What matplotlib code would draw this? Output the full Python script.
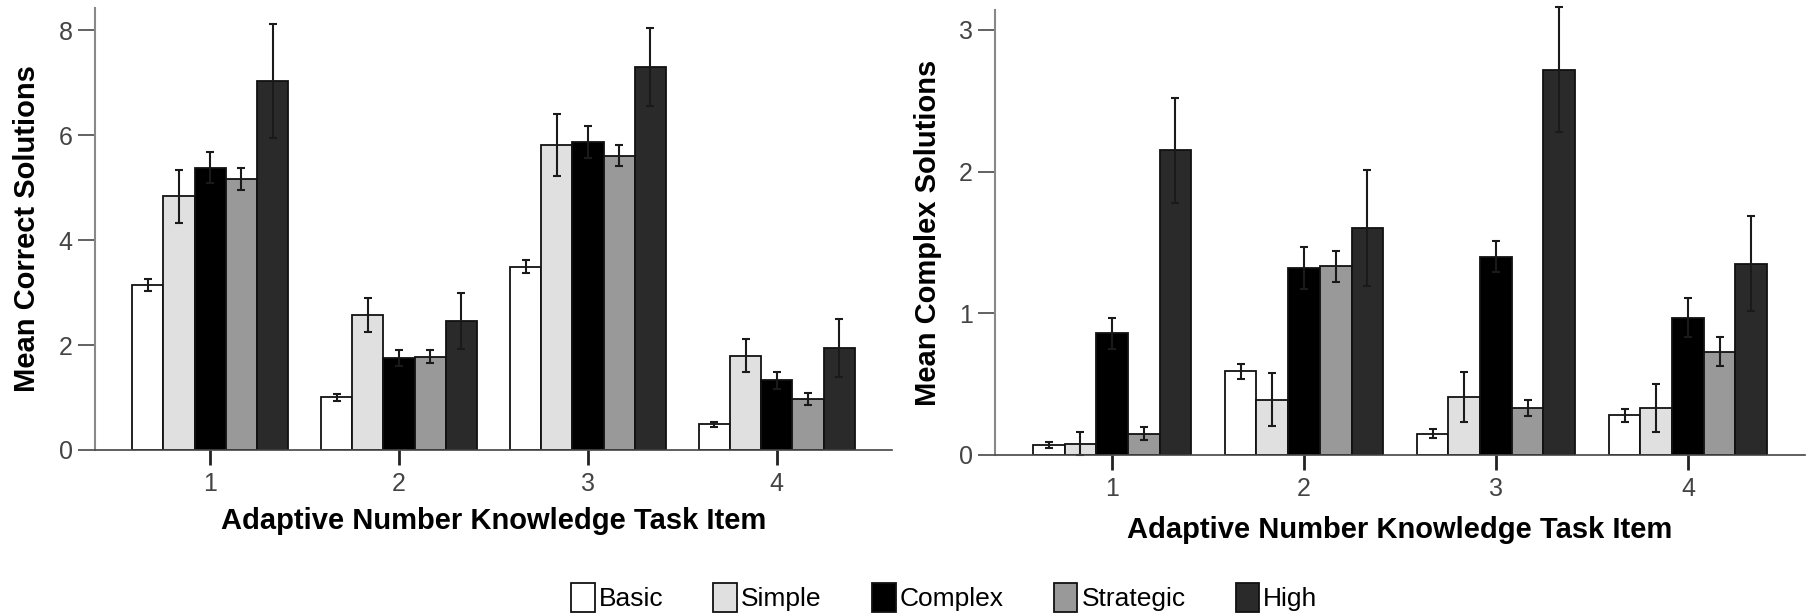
import matplotlib.pyplot as plt
import numpy as np

items = ["1", "2", "3", "4"]
groups = ["Basic", "Simple", "Complex", "Strategic", "High"]
colors = ["#ffffff", "#e0e0e0", "#000000", "#999999", "#2a2a2a"]

# mean correct solutions per group, one list per ANK item
correct_mean = {
    "Basic":     [3.14, 1.00, 3.49, 0.49],
    "Simple":    [4.83, 2.57, 5.81, 1.80],
    "Complex":   [5.38, 1.75, 5.87, 1.33],
    "Strategic": [5.16, 1.78, 5.61, 0.97],
    "High":      [7.03, 2.46, 7.30, 1.94],
}
correct_err = {
    "Basic":     [0.12, 0.07, 0.12, 0.05],
    "Simple":    [0.50, 0.33, 0.59, 0.31],
    "Complex":   [0.29, 0.15, 0.30, 0.16],
    "Strategic": [0.21, 0.13, 0.20, 0.11],
    "High":      [1.08, 0.53, 0.74, 0.55],
}

complex_mean = {
    "Basic":     [0.07, 0.59, 0.15, 0.28],
    "Simple":    [0.08, 0.39, 0.41, 0.33],
    "Complex":   [0.86, 1.32, 1.40, 0.97],
    "Strategic": [0.15, 1.33, 0.33, 0.73],
    "High":      [2.15, 1.60, 2.72, 1.35],
}
complex_err = {
    "Basic":     [0.02, 0.055, 0.03, 0.045],
    "Simple":    [0.08, 0.185, 0.175, 0.17],
    "Complex":   [0.11, 0.15, 0.11, 0.14],
    "Strategic": [0.045, 0.11, 0.055, 0.10],
    "High":      [0.37, 0.41, 0.44, 0.335],
}

plt.rcParams['font.family'] = ['Liberation Sans', 'DejaVu Sans']

fig = plt.figure(figsize=(18.09, 6.16), dpi=100)
ax1 = fig.add_axes([0.0525, 0.2695, 0.4406, 0.7175])
ax2 = fig.add_axes([0.550, 0.2614, 0.4478, 0.7224])

x = np.arange(1, len(items) + 1)
w = 0.165


def draw(ax, means, errs, ylim, yticks, ylabel, ypad, xpad):
    handles = []
    for i, g in enumerate(groups):
        pos = x + (i - 2) * w
        h = ax.bar(pos, means[g], w, color=colors[i], edgecolor="#111111",
                   linewidth=1.3, label=g)
        handles.append(h)
        ax.errorbar(pos, means[g], yerr=errs[g], fmt="none", ecolor="#1a1a1a",
                    elinewidth=1.5, capsize=3, capthick=1.5, clip_on=False)
    ax.set_ylim(*ylim)
    ax.set_xlim(x[0] - 0.61, x[-1] + 0.61)
    ax.set_yticks(yticks)
    ax.set_xticks(x)
    ax.set_xticklabels(items)
    for s in ["top", "right"]:
        ax.spines[s].set_visible(False)
    ax.spines["left"].set_color("#888888")
    ax.spines["left"].set_linewidth(1.5)
    ax.spines["bottom"].set_color("#444444")
    ax.spines["bottom"].set_linewidth(1.2)
    ax.tick_params(axis="y", length=12, width=1.3, color="#555555",
                   labelsize=18, labelcolor="#444444", pad=4)
    ax.tick_params(axis="x", length=11, width=2, color="#222222",
                   labelsize=18, labelcolor="#444444", pad=5)
    ax.set_ylabel(ylabel, fontsize=21, fontweight="bold", labelpad=ypad)
    ax.set_xlabel("Adaptive Number Knowledge Task Item", fontsize=21,
                  fontweight="bold", labelpad=xpad)
    return handles


handles = draw(ax1, correct_mean, correct_err, (0, 8.42), [0, 2, 4, 6, 8],
               "Mean Correct Solutions", 13, 8)
draw(ax2, complex_mean, complex_err, (0, 3.14), [0, 1, 2, 3],
     "Mean Complex Solutions", 12, 11)

fig.legend(handles, groups, loc="center", bbox_to_anchor=(0.522, 0.03),
           ncol=5, frameon=False, fontsize=19, handlelength=0.9,
           handleheight=1.3, handletextpad=0.15, columnspacing=1.9)

plt.savefig("out.png", dpi=100)
